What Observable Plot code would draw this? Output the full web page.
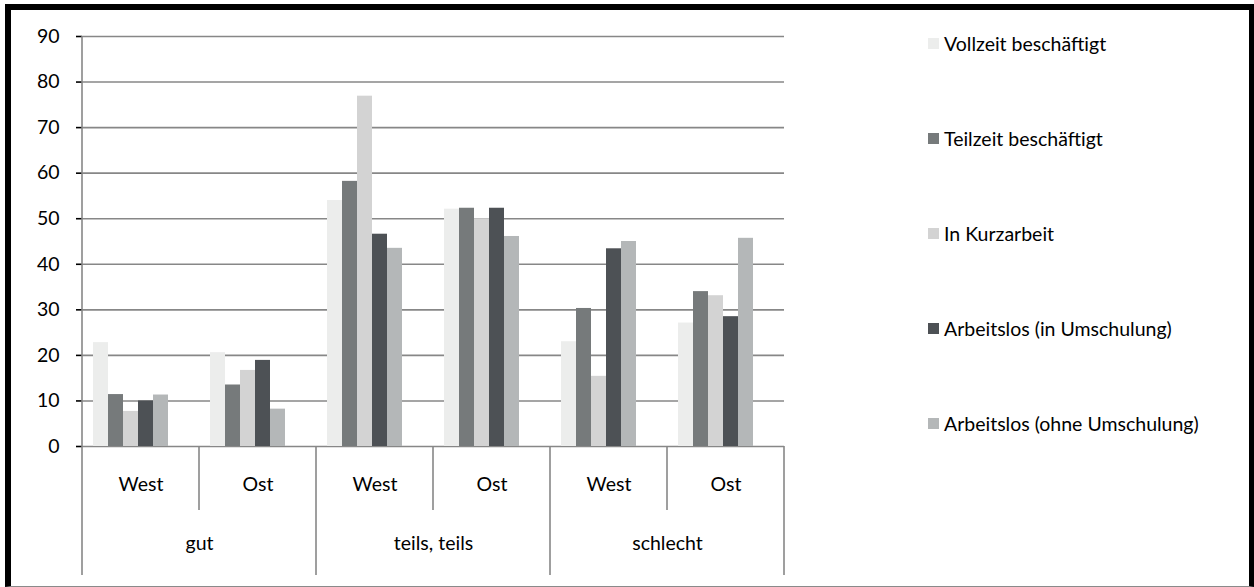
<!DOCTYPE html>
<html>
<head>
<meta charset="utf-8">
<script src="https://cdn.jsdelivr.net/npm/d3@7"></script>
<script src="https://cdn.jsdelivr.net/npm/@observablehq/plot@0.6"></script>
<style>
  html, body { margin: 0; padding: 0; background: #fff; }
  #wrap { position: relative; width: 1254px; height: 587px; overflow: hidden; font-family: Lato, "Open Sans", sans-serif; }
  #frame { position: absolute; left: 5px; top: 4px; width: 1249px; height: 583px; box-sizing: border-box;
           border-left: 6px solid #000; border-top: 6px solid #000; border-right: 5px solid #000; border-bottom: 1px solid #8a8a8a; pointer-events: none; }
  #chart { position: absolute; left: 0; top: 0; }
  #legend { position: absolute; left: 928px; top: 0; }
  .item { position: absolute; left: 0; white-space: nowrap; font-size: 19.5px; color: #000; display: flex; align-items: center; }
  .sw { width: 11px; height: 11px; margin-right: 5px; flex: none; }
</style>
</head>
<body>
<div id="wrap">
  <div id="chart"></div>
  <div id="legend"></div>
  <div id="frame"></div>
</div>
<script>
// ---- data ----
const groups = ["gut", "teils, teils", "schlecht"];
const regions = ["West", "Ost"];
const series = ["Vollzeit beschäftigt", "Teilzeit beschäftigt", "In Kurzarbeit", "Arbeitslos (in Umschulung)", "Arbeitslos (ohne Umschulung)"];
const colors = ["#ecedec", "#767a7b", "#d3d3d3", "#4d5155", "#b4b7b8"];
const yTicks = [0, 10, 20, 30, 40, 50, 60, 70, 80, 90];
// values per series, order: gut West, gut Ost, teils West, teils Ost, schlecht West, schlecht Ost
const vollzeit   = [22.8, 20.6, 54.0, 52.1, 23.0, 27.1];
const teilzeit   = [11.4, 13.5, 58.2, 52.3, 30.3, 34.0];
const kurzarbeit = [7.7, 16.7, 76.9, 50.0, 15.4, 33.1];
const arbMitUms  = [10.0, 18.9, 46.6, 52.3, 43.4, 28.5];
const arbOhneUms = [11.3, 8.2, 43.5, 46.1, 45.0, 45.7];
const seriesValues = [vollzeit, teilzeit, kurzarbeit, arbMitUms, arbOhneUms];

// ---- derived tables ----
const cats = groups.flatMap(g => regions.map(r => ({group: g, region: r, key: g + "|" + r})));
const keys = cats.map(c => c.key);
const rows = [];
cats.forEach((c, i) => series.forEach((s, j) => rows.push({key: c.key, series: s, value: seriesValues[j][i]})));

const gridColor = "#878787";
const fs = 19.5;
const chart = Plot.plot({
  width: 790,
  height: 587,
  marginLeft: 81,
  marginRight: 6,
  marginTop: 36,
  marginBottom: 141,
  style: {fontFamily: "Lato, 'Open Sans', sans-serif", fontSize: fs + "px", color: "#000", background: "transparent"},
  fx: {domain: keys, padding: 0, axis: null, label: null},
  x: {domain: series, paddingInner: 0, paddingOuter: 1.24, align: 0.26, axis: null},
  y: {domain: [0, 90], ticks: yTicks, tickSize: 6, tickPadding: 17, label: null, tickFormat: d => String(d)},
  color: {domain: series, range: colors},
  marks: [
    Plot.ruleY(yTicks, {stroke: gridColor, strokeWidth: 1.6}),
    Plot.barY(rows, {fx: "key", x: "series", y: "value", fill: "series"}),
    Plot.text(cats, {fx: "key", text: "region", frameAnchor: "bottom", dy: 44, fontSize: fs}),
    Plot.text(cats.filter(c => c.region === "West"), {fx: "key", text: "group", frameAnchor: "bottom-right", textAnchor: "middle", dy: 103, fontSize: fs})
  ]
});
document.getElementById("chart").appendChild(chart);

// category axis separators and y axis line, positioned from the library's scales
const svg = d3.select(chart.tagName.toLowerCase() === "svg" ? chart : chart.querySelector("svg"));
const fx = chart.scale("fx");
const ys = chart.scale("y");
const y0 = ys.apply(0), yTop = ys.apply(90);
const subBottom = y0 + 64, groupBottom = y0 + 129;
const g = svg.append("g").attr("stroke", gridColor).attr("stroke-width", 1.6);
keys.forEach((k, i) => {
  const x = fx.apply(k);
  const isGroupStart = cats[i].region === "West";
  g.append("line").attr("x1", x).attr("x2", x)
    .attr("y1", i === 0 ? yTop : y0).attr("y2", isGroupStart ? groupBottom : subBottom);
});
const xEnd = fx.apply(keys[keys.length - 1]) + fx.bandwidth;
g.append("line").attr("x1", xEnd).attr("x2", xEnd).attr("y1", y0).attr("y2", groupBottom);
svg.selectAll('[aria-label="y-axis tick"]').attr("stroke", gridColor).attr("stroke-width", 1.6);
svg.selectAll('[aria-label="y-axis"] .tick line').attr("stroke", gridColor);
svg.selectAll('[aria-label="y-axis"] .domain').remove();

// legend
const legend = d3.select("#legend");
const rowY = [43, 138, 233, 328, 423];
series.forEach((s, i) => {
  const it = legend.append("div").attr("class", "item").style("top", (rowY[i] - 12) + "px").style("height", "24px");
  it.append("div").attr("class", "sw").style("background", colors[i]);
  it.append("span").text(s);
});
</script>
</body>
</html>
